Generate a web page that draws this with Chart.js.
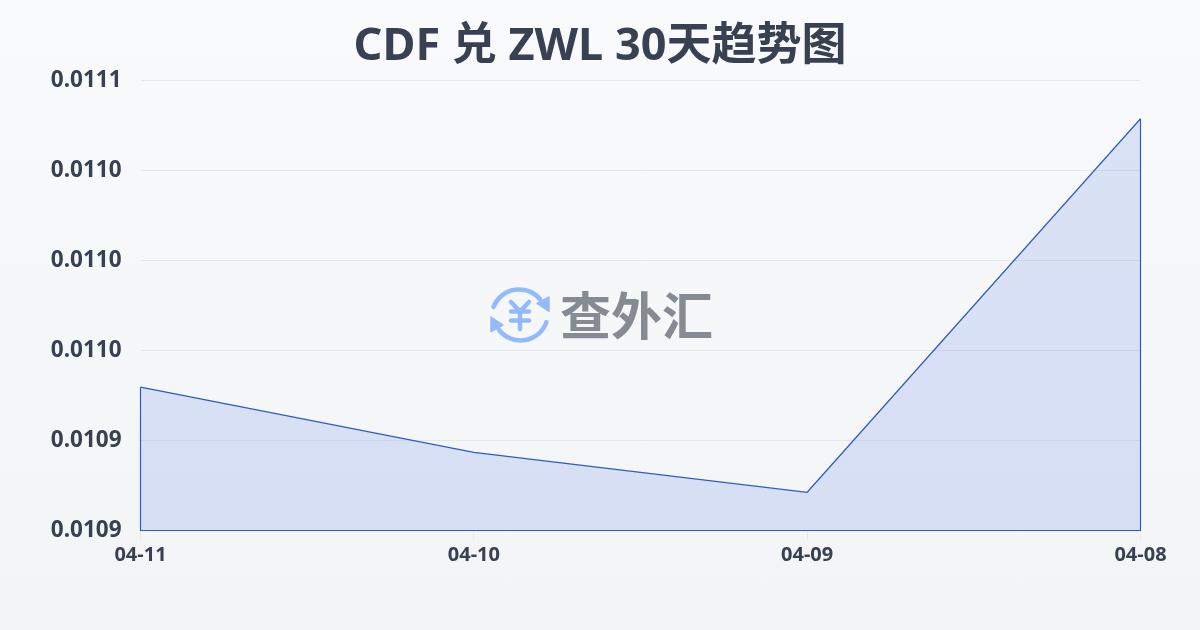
<!DOCTYPE html>
<html lang="zh-CN">
<head>
    <meta charset="UTF-8">
    <title>CDF 兑 ZWL 30天趋势图</title>
    <style>
        html, body {
            margin: 0;
            padding: 0;
        }
        body {
            width: 1200px;
            height: 630px;
            overflow: hidden;
            position: relative;
            background: linear-gradient(180deg, #f9fafc 0%, #f3f4f6 100%);
            font-family: "Noto Sans", "Noto Sans CJK SC", sans-serif;
        }
        #myChart {
            position: absolute;
            left: 0;
            top: 0;
        }
        .watermark-icon {
            position: absolute;
            left: 490px;
            top: 286px;
            width: 60px;
            height: 60px;
        }
        .watermark-text {
            position: absolute;
            left: 560px;
            top: 277px;
            font-family: "Noto Sans CJK SC", sans-serif;
            font-weight: 700;
            font-size: 51px;
            line-height: 72px;
            color: #858a93;
            white-space: nowrap;
        }
    </style>
    <script src="https://cdn.jsdelivr.net/npm/chart.js"></script>
</head>
<body>

    <canvas id="myChart" width="1200" height="630"></canvas>

    <!-- watermark -->
    <svg class="watermark-icon" viewBox="0 0 60 60" fill="none" stroke="#93bbfb" stroke-width="4.5" stroke-linecap="round" stroke-linejoin="round">
        <path d="M3.5 21 A27.5 27.5 0 0 1 50 13"/>
        <path d="M56.5 36 A27.5 27.5 0 0 1 9 44"/>
        <path d="M59 11 L59 25.5 L47 17.5 Z" fill="#93bbfb" stroke-width="1.5"/>
        <path d="M1 31 L1 45.5 L13 39 Z" fill="#93bbfb" stroke-width="1.5"/>
        <path d="M21 16 L30 25.5 L39 16 M21 25.5 L39 25.5 M21 34.5 L39 34.5 M30 25.5 L30 43"/>
    </svg>
    <div class="watermark-text">查外汇</div>

    <script>
        const titleText = "CDF 兑 ZWL 30天趋势图";
        const categories = ["04-11", "04-10", "04-09", "04-08"];
        const rates = [0.0109437, 0.0109147, 0.010897, 0.011063];
        const axisMin = 0.01088;
        const axisMax = 0.01108;
        const axisStep = 0.00004;

        // closes the line down to the x axis, the reference outlines the whole area
        const outlinePlugin = {
            id: "outline",
            afterDatasetsDraw(chart) {
                const pts = chart.getDatasetMeta(0).data;
                const base = chart.scales.y.bottom;
                const ctx = chart.ctx;
                ctx.save();
                ctx.strokeStyle = "#2b5cc0";
                ctx.lineWidth = 1.2;
                ctx.beginPath();
                ctx.moveTo(pts[0].x, pts[0].y);
                ctx.lineTo(pts[0].x, base);
                ctx.lineTo(pts[pts.length - 1].x, base);
                ctx.lineTo(pts[pts.length - 1].x, pts[pts.length - 1].y);
                ctx.stroke();
                ctx.restore();
            }
        };

        const ctx = document.getElementById("myChart").getContext("2d");
        new Chart(ctx, {
            type: "line",
            data: {
                labels: categories,
                datasets: [{
                    data: rates,
                    borderColor: "#2b5cc0",
                    borderWidth: 1.2,
                    backgroundColor: "rgba(60, 110, 225, 0.16)",
                    fill: "start",
                    tension: 0,
                    pointRadius: 0
                }]
            },
            options: {
                responsive: false,
                animation: false,
                layout: {
                    autoPadding: false,
                    padding: 0
                },
                plugins: {
                    legend: { display: false },
                    tooltip: { enabled: false },
                    title: {
                        display: true,
                        text: titleText,
                        color: "#374151",
                        font: { family: '"Noto Sans", "Noto Sans CJK SC", sans-serif', size: 45, weight: "bold" },
                        padding: { top: 20, bottom: 6.5 }
                    }
                },
                scales: {
                    x: {
                        offset: false,
                        border: { display: false },
                        grid: { drawOnChartArea: false, color: "#eceae4", tickLength: 10 },
                        ticks: {
                            color: "#374151",
                            padding: 3,
                            maxRotation: 0,
                            font: { family: '"Noto Sans", sans-serif', size: 20, weight: "bold" }
                        },
                        afterFit(scale) { scale.height = 99.5; }
                    },
                    y: {
                        min: axisMin,
                        max: axisMax,
                        border: { display: false },
                        grid: { color: "#e5e7eb", lineWidth: 1, drawTicks: false },
                        afterBuildTicks(scale) {
                            const ticks = [];
                            for (let i = 0; i <= Math.round((axisMax - axisMin) / axisStep); i++) {
                                ticks.push({ value: axisMin + i * axisStep });
                            }
                            scale.ticks = ticks;
                        },
                        ticks: {
                            color: "#374151",
                            padding: 19,
                            font: { family: '"Noto Sans", sans-serif', size: 22.5, weight: "bold" },
                            callback: (value) => value.toFixed(4)
                        },
                        afterFit(scale) { scale.width = 140.5; }
                    },
                    // empty axis, only reserves the right margin so the title stays centred on the page
                    yRight: {
                        position: "right",
                        min: axisMin,
                        max: axisMax,
                        border: { display: false },
                        grid: { display: false },
                        ticks: { display: false },
                        afterFit(scale) { scale.width = 59.5; }
                    }
                }
            },
            plugins: [outlinePlugin]
        });
    </script>
</body>
</html>
